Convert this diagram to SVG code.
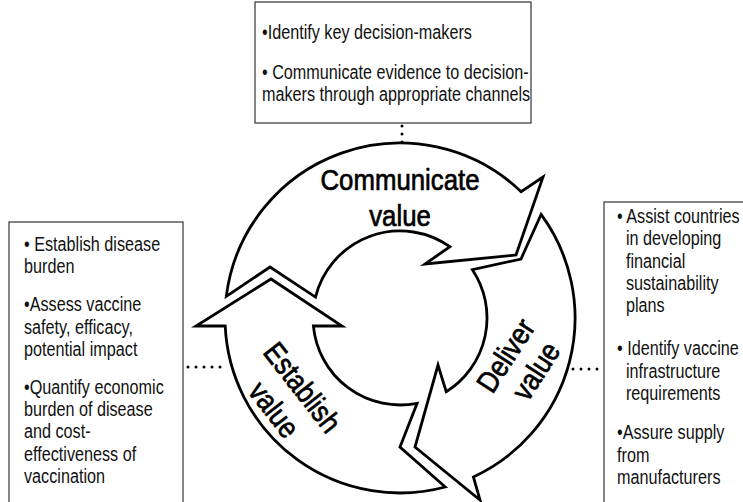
<svg xmlns="http://www.w3.org/2000/svg" width="743" height="502" viewBox="0 0 743 502">
  <style>
    .box { fill: #ffffff; stroke: #333333; stroke-width: 1.2; }
    .bt { font-family: "Liberation Sans", Arial, sans-serif; font-size: 20px; fill: #111111; }
    .arrow { fill: #ffffff; stroke: #000000; stroke-width: 2.8; stroke-linejoin: miter; stroke-miterlimit: 10; }
    .lbl { font-family: "Liberation Sans", Arial, sans-serif; font-size: 30px; fill: #000000; stroke: #000000; stroke-width: 0.7; text-anchor: middle; }
    .dots { fill: none; stroke: #000000; stroke-width: 3; stroke-linecap: round; stroke-dasharray: 0 8; }
  </style>
  <rect width="743" height="502" fill="#ffffff"/>

  <g id="connectors">
    <line class="dots" x1="402" y1="126" x2="402" y2="150"/>
    <line class="dots" x1="188" y1="367" x2="228" y2="367"/>
    <line class="dots" x1="573" y1="369" x2="603" y2="369"/>
  </g>

  <g id="box-top">
    <rect class="box" x="255" y="2" width="276" height="121"/>
    <g transform="translate(262,0) scale(0.81,1)">
      <text class="bt" x="0" y="39">•Identify key decision-makers</text>
      <text class="bt" x="0" y="79">• Communicate evidence to decision-</text>
      <text class="bt" x="0" y="101">makers through appropriate channels</text>
    </g>
  </g>

  <g id="box-left">
    <rect class="box" x="9" y="222" width="174" height="290"/>
    <g transform="translate(24,0) scale(0.81,1)">
      <text class="bt" x="0" y="251">• Establish disease</text>
      <text class="bt" x="0" y="273.3">burden</text>
      <text class="bt" x="0" y="311.3">•Assess vaccine</text>
      <text class="bt" x="0" y="333.6">safety, efficacy,</text>
      <text class="bt" x="0" y="355.9">potential impact</text>
      <text class="bt" x="0" y="393.9">•Quantify economic</text>
      <text class="bt" x="0" y="416.2">burden of disease</text>
      <text class="bt" x="0" y="438.5">and cost-</text>
      <text class="bt" x="0" y="460.8">effectiveness of</text>
      <text class="bt" x="0" y="483.1">vaccination</text>
    </g>
  </g>

  <g id="box-right">
    <rect class="box" x="604" y="202" width="150" height="310"/>
    <g transform="translate(617,0) scale(0.81,1)">
      <text class="bt" x="0" y="223">• Assist countries</text>
      <text class="bt" x="11" y="245.3">in developing</text>
      <text class="bt" x="11" y="267.6">financial</text>
      <text class="bt" x="11" y="289.9">sustainability</text>
      <text class="bt" x="11" y="312.2">plans</text>
      <text class="bt" x="0" y="355.5">• Identify vaccine</text>
      <text class="bt" x="11" y="377.8">infrastructure</text>
      <text class="bt" x="11" y="400.1">requirements</text>
      <text class="bt" x="0" y="439.4">•Assure supply</text>
      <text class="bt" x="0" y="461.7">from</text>
      <text class="bt" x="0" y="484">manufacturers</text>
    </g>
  </g>

  <g id="arrow-communicate">
    <path class="arrow" d="M226.3,296.4 A175,175 0 0 1 521.1,191.7 L543,177 L516,255 L425,264 L449.9,246.7 A87,87 0 0 0 315.5,297.1 L270,267 Z"/>
    <g transform="translate(400,0) scale(0.86,1)">
      <text class="lbl" x="0" y="190">Communicate</text>
      <text class="lbl" x="0" y="226">value</text>
    </g>
  </g>

  <g id="arrow-establish">
    <path class="arrow" d="M313.4,325.9 L342,326 L271,279 L196,326 L225.2,325.9 A175,175 0 0 0 445.3,487 L400,447 L417.1,403.3 A87,87 0 0 1 313.4,325.9 Z"/>
    <g transform="translate(303,387) rotate(52) scale(0.86,1)">
      <text class="lbl" x="0" y="11">Establish</text>
      <text class="lbl" x="0" y="47">value</text>
    </g>
  </g>

  <g id="arrow-deliver">
    <path class="arrow" d="M541.1,214.4 A175,175 0 0 1 473.4,476.9 L480,500 L415,447 L438,365 L446.2,391.7 A87,87 0 0 0 472.4,269.7 L521,259 Z"/>
    <g transform="translate(505,355) rotate(-57) scale(0.86,1)">
      <text class="lbl" x="0" y="11">Deliver</text>
      <text class="lbl" x="4" y="45">value</text>
    </g>
  </g>
</svg>
